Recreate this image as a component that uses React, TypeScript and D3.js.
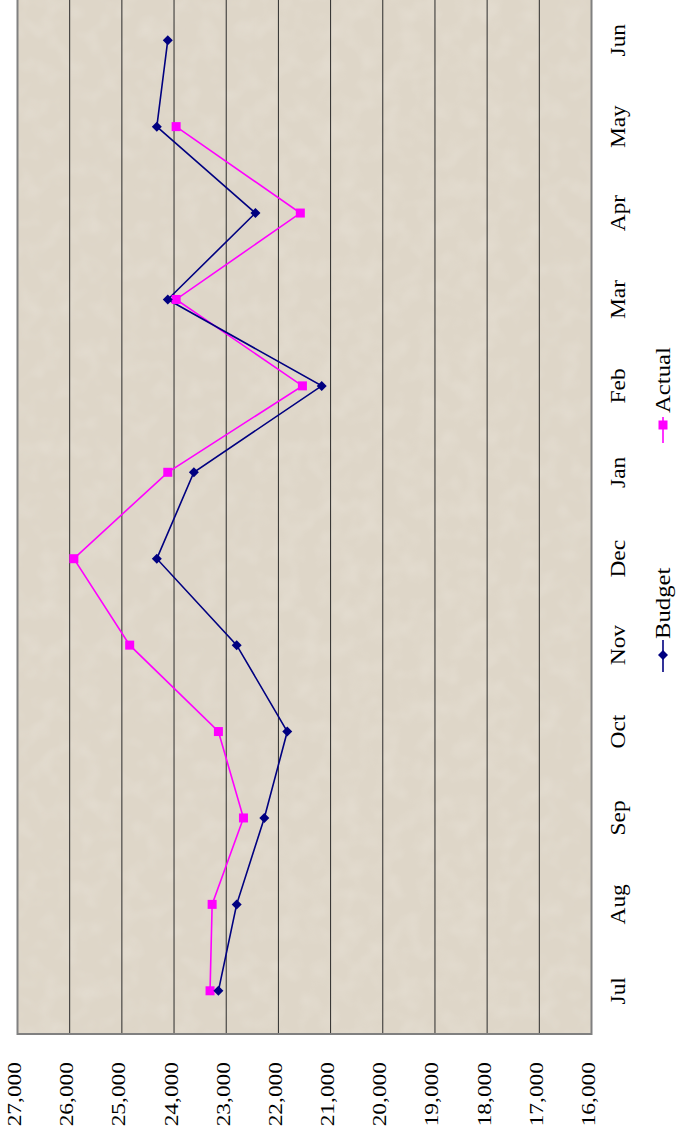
import React from 'react';
import * as d3 from 'd3';

const months = ['Jul', 'Aug', 'Sep', 'Oct', 'Nov', 'Dec', 'Jan', 'Feb', 'Mar', 'Apr', 'May', 'Jun'];
const budget = [23150, 22800, 22270, 21830, 22800, 24330, 23620, 21170, 24120, 22440, 24330, 24120];
const actual: (number | null)[] = [23310, 23270, 22670, 23150, 24850, 25920, 24120, 21540, 23960, 21580, 23960, null];
const valueTicks = [27000, 26000, 25000, 24000, 23000, 22000, 21000, 20000, 19000, 18000, 17000, 16000];

const W = 678;
const H = 1142;
const plot = { left: 17.5, right: 591.5, top: -3, bottom: 1034 };
const NAVY = '#000080';
const MAGENTA = '#FF00FF';
const FONT = '"Liberation Serif", "Times New Roman", Times, serif';
const STRETCH = 1.3;

// Times-style advance widths (em) so the labels keep their length whatever serif is used
const TIMES: Record<string, number> = {
  A: 0.722, B: 0.667, D: 0.722, F: 0.556, J: 0.389, M: 0.889, N: 0.722, O: 0.722, S: 0.556,
  a: 0.444, b: 0.5, c: 0.444, d: 0.5, e: 0.444, g: 0.5, l: 0.278, n: 0.5, o: 0.5, p: 0.5,
  r: 0.333, t: 0.278, u: 0.5, v: 0.5, y: 0.5, ',': 0.25,
};
const textLen = (s: string, size: number) =>
  s.split('').reduce((acc, c) => acc + (TIMES[c] ?? 0.5), 0) * size;

function Label({ x, y, text, size, anchor, fontSize }: { x: number; y: number; text: string; size: number; anchor: string; fontSize?: number }) {
  return (
    <text transform={`translate(${x},${y}) rotate(-90) scale(${STRETCH},1)`}
      textAnchor={anchor} style={{ fontFamily: FONT, fontSize: fontSize ?? size }} fill="#000"
      textLength={textLen(text, size)} lengthAdjust="spacingAndGlyphs">{text}</text>
  );
}

export default function App() {
  // the chart is drawn turned a quarter turn: values run right-to-left, months bottom-to-top
  const x = d3.scaleLinear().domain([16000, 27000]).range([plot.right, plot.left]);
  const y = d3.scalePoint<string>().domain(months).range([plot.bottom, plot.top]).padding(0.5);

  const budgetPts = months.map((m, i) => ({ m, v: budget[i] }));
  const actualPts = months.map((m, i) => ({ m, v: actual[i] })).filter(d => d.v != null) as { m: string; v: number }[];

  const line = d3.line<{ m: string; v: number }>()
    .x(d => x(d.v))
    .y(d => y(d.m)!);

  const fmt = d3.format(',');
  const diamond = (cx: number, cy: number, r = 5) => `M${cx},${cy - r}L${cx + r},${cy}L${cx},${cy + r}L${cx - r},${cy}Z`;
  const pw = plot.right - plot.left;
  const ph = plot.bottom - plot.top;

  return (
    <svg width={W} height={H} style={{ position: 'absolute', left: 0, top: 0, background: '#fff' }}>
      <defs>
        <filter id="grain" x="0" y="0" width="100%" height="100%">
          <feTurbulence type="fractalNoise" baseFrequency="1.0" numOctaves="2" seed="7" />
          <feColorMatrix type="matrix" values="0 0 0 0 0.40  0 0 0 0 0.36  0 0 0 0 0.30  4.5 0 0 0 -2.6" />
        </filter>
        <filter id="blotch" x="0" y="0" width="100%" height="100%">
          <feTurbulence type="fractalNoise" baseFrequency="0.05" numOctaves="2" seed="2" />
          <feColorMatrix type="matrix" values="0 0 0 0 1  0 0 0 0 0.98  0 0 0 0 0.95  1.5 0 0 0 -0.6" />
        </filter>
        <clipPath id="plotclip">
          <rect x={plot.left} y={plot.top} width={pw} height={ph} />
        </clipPath>
      </defs>

      {/* plot background */}
      <rect x={plot.left} y={plot.top} width={pw} height={ph} fill="#DED6C8" />
      <g clipPath="url(#plotclip)">
        <rect x={plot.left} y={plot.top} width={pw} height={ph} filter="url(#blotch)" opacity={0.2} />
        <rect x={plot.left} y={plot.top} width={pw} height={ph} filter="url(#grain)" opacity={0.55} />
      </g>

      {/* gridlines */}
      {valueTicks.slice(1, -1).map(t => (
        <line key={t} x1={x(t)} x2={x(t)} y1={plot.top} y2={plot.bottom} stroke="#2b2b2b" strokeWidth={1} />
      ))}
      <rect x={plot.left} y={plot.top} width={pw} height={ph} fill="none" stroke="#808080" strokeWidth={2} />

      {/* series */}
      <path d={line(actualPts)!} fill="none" stroke={MAGENTA} strokeWidth={1.6} />
      <path d={line(budgetPts)!} fill="none" stroke={NAVY} strokeWidth={1.6} />
      {actualPts.map(d => (
        <rect key={'a' + d.m} x={x(d.v) - 4.5} y={y(d.m)! - 4.5} width={9} height={9} fill={MAGENTA} />
      ))}
      {budgetPts.map(d => (
        <path key={'b' + d.m} d={diamond(x(d.v), y(d.m)!)} fill={NAVY} />
      ))}

      {/* value axis labels */}
      {valueTicks.map(t => (
        <Label key={t} x={x(t) + 3.5} y={1062} text={fmt(t)} size={18} fontSize={19} anchor="end" />
      ))}

      {/* category labels */}
      {months.map(m => (
        <Label key={m} x={625} y={y(m)!} text={m} size={18} fontSize={20} anchor="middle" />
      ))}

      {/* legend */}
      <g>
        <line x1={663} x2={663} y1={672} y2={640} stroke={NAVY} strokeWidth={1.6} />
        <path d={diamond(663, 655)} fill={NAVY} />
        <Label x={670} y={639} text="Budget" size={19} fontSize={20} anchor="start" />
        <line x1={663} x2={663} y1={443} y2={417} stroke={MAGENTA} strokeWidth={1.6} />
        <rect x={658.5} y={420.5} width={9} height={9} fill={MAGENTA} />
        <Label x={670} y={413} text="Actual" size={19} fontSize={20} anchor="start" />
      </g>
    </svg>
  );
}
